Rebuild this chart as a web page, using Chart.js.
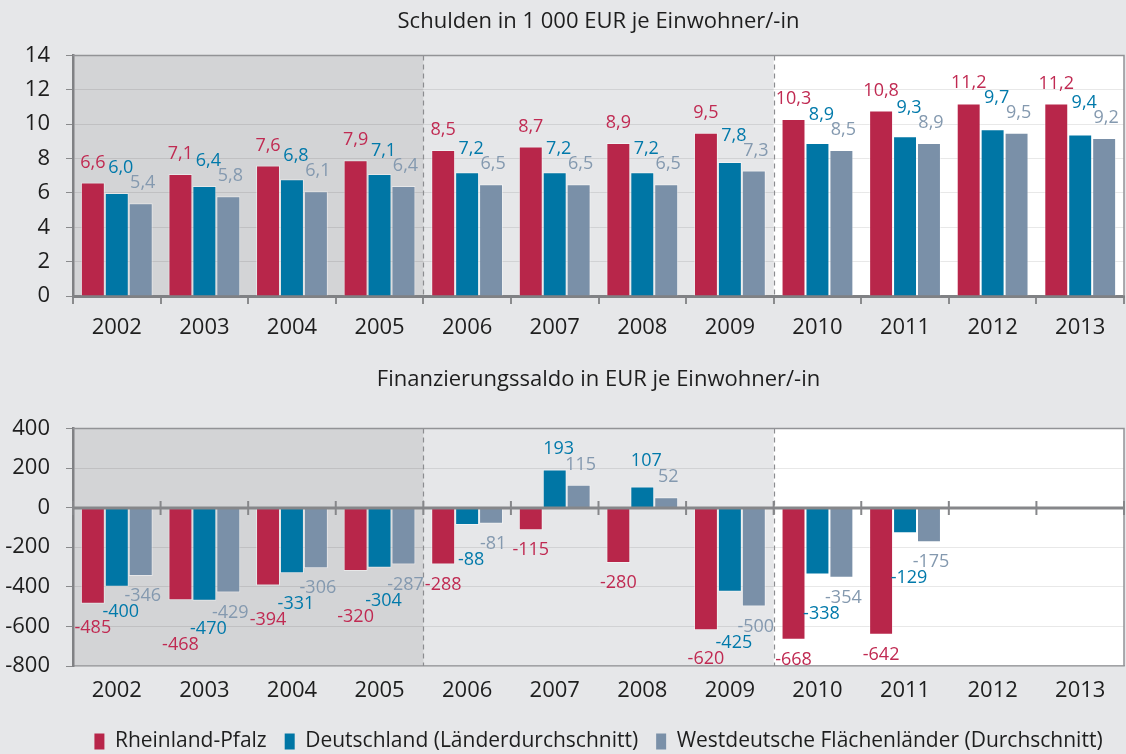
<!DOCTYPE html>
<html>
<head>
<meta charset="utf-8">
<script src="https://cdn.jsdelivr.net/npm/chart.js@4.4.1/dist/chart.umd.min.js"></script>
<style>
  html, body { margin: 0; padding: 0; background: #e6e7e9; overflow: hidden; }
  #wrap { position: relative; width: 1126px; height: 754px; overflow: hidden; }
  canvas { position: absolute; left: 0; }
</style>
</head>
<body>
<div id="wrap">
  <canvas id="debt" width="1126" height="350" style="top:0"></canvas>
  <canvas id="saldo" width="1126" height="412" style="top:350px"></canvas>
</div>
<script>
const years = ['2002', '2003', '2004', '2005', '2006', '2007', '2008', '2009', '2010', '2011', '2012', '2013'];
const seriesNames = ['Rheinland-Pfalz', 'Deutschland (Länderdurchschnitt)', 'Westdeutsche Flächenländer (Durchschnitt)'];

// Schulden in 1 000 EUR je Einwohner/-in
const debtRP   = [6.6, 7.1, 7.6, 7.9, 8.5, 8.7, 8.9, 9.5, 10.3, 10.8, 11.2, 11.2];
const debtDE   = [6.0, 6.4, 6.8, 7.1, 7.2, 7.2, 7.2, 7.8, 8.9, 9.3, 9.7, 9.4];
const debtWest = [5.4, 5.8, 6.1, 6.4, 6.5, 6.5, 6.5, 7.3, 8.5, 8.9, 9.5, 9.2];

// Finanzierungssaldo in EUR je Einwohner/-in (2012, 2013 ohne Angabe)
const saldoRP   = [-485, -468, -394, -320, -288, -115, -280, -620, -668, -642, null, null];
const saldoDE   = [-400, -470, -331, -304, -88, 193, 107, -425, -338, -129, null, null];
const saldoWest = [-346, -429, -306, -287, -81, 115, 52, -500, -354, -175, null, null];

const FONT = "'Open Sans', 'Noto Sans', sans-serif";
const barColors = ['#b8264a', '#0076a5', '#7a90a8'];
const labelColors = ['#c02a52', '#0079aa', '#8499af'];

// shaded periods behind the bars + dashed separators + frame
const bands = {
  id: 'bands',
  beforeDraw(chart) {
    const { ctx, chartArea: a, scales: { x } } = chart;
    const half = (x.getPixelForValue(1) - x.getPixelForValue(0)) / 2;
    const edge = i => x.getPixelForValue(i) - half;
    ctx.save();
    ctx.fillStyle = '#d3d4d6';
    ctx.fillRect(a.left, a.top, edge(4) - a.left, a.bottom - a.top);
    ctx.fillStyle = '#ffffff';
    ctx.fillRect(edge(8), a.top, a.right - edge(8), a.bottom - a.top);
    ctx.restore();
  },
  beforeDatasetsDraw(chart) {
    const { ctx, chartArea: a, scales: { x } } = chart;
    const half = (x.getPixelForValue(1) - x.getPixelForValue(0)) / 2;
    ctx.save();
    ctx.strokeStyle = '#8c8d90';
    ctx.lineWidth = 1.2;
    ctx.setLineDash([5, 4]);
    [4, 8].forEach(i => {
      const px = Math.round(x.getPixelForValue(i) - half) + 0.5;
      ctx.beginPath();
      ctx.moveTo(px, a.top);
      ctx.lineTo(px, a.bottom);
      ctx.stroke();
    });
    ctx.setLineDash([]);
    ctx.strokeStyle = '#929396';
    ctx.lineWidth = 1.5;
    ctx.beginPath();
    ctx.moveTo(a.left, a.top);
    ctx.lineTo(a.right, a.top);
    ctx.lineTo(a.right, a.bottom);
    ctx.stroke();
    ctx.restore();
  }
};

// zero line with crossing ticks (lower chart)
const zeroAxis = {
  id: 'zeroAxis',
  afterDatasetsDraw(chart) {
    const { ctx, chartArea: a, scales: { x, y } } = chart;
    const y0 = Math.round(y.getPixelForValue(0));
    const half = (x.getPixelForValue(1) - x.getPixelForValue(0)) / 2;
    ctx.save();
    ctx.strokeStyle = '#86878a';
    ctx.lineWidth = 3;
    ctx.beginPath();
    ctx.moveTo(a.left, y0);
    ctx.lineTo(a.right, y0);
    ctx.stroke();
    ctx.lineWidth = 2;
    for (let i = 0; i <= years.length; i++) {
      const px = x.getPixelForValue(i) - half;
      ctx.beginPath();
      ctx.moveTo(px, y0 - 7);
      ctx.lineTo(px, y0 + 7);
      ctx.stroke();
    }
    ctx.restore();
  }
};

// value labels above / below each bar, nudged apart when neighbours collide
const valueLabels = {
  id: 'valueLabels',
  afterDatasetsDraw(chart, args, opts) {
    const { ctx } = chart;
    const n = chart.data.datasets.length;
    ctx.save();
    ctx.font = '18px ' + FONT;
    ctx.textAlign = 'center';
    ctx.textBaseline = 'middle';
    years.forEach((yr, i) => {
      const placed = [];
      for (let di = n - 1; di >= 0; di--) {
        const v = chart.data.datasets[di].data[i];
        if (v === null || v === undefined) continue;
        const el = chart.getDatasetMeta(di).data[i];
        const text = opts.format(v);
        const lab = { di, v, text, x: el.x + opts.dx[di], w: ctx.measureText(text).width,
                      y: v >= 0 ? el.y - opts.offset : el.y + opts.offset };
        const nb = placed[placed.length - 1];
        if (nb && (nb.v >= 0) === (v >= 0) && Math.abs(nb.x - lab.x) < (nb.w + lab.w) / 2 - 2
            && Math.abs(nb.y - lab.y) < opts.gap) {
          lab.y = v >= 0 ? nb.y - opts.gap : nb.y + opts.gap;
        }
        placed.push(lab);
      }
      placed.forEach(l => {
        ctx.fillStyle = labelColors[l.di];
        ctx.fillText(l.text, l.x, l.y);
      });
    });
    ctx.restore();
  }
};

function makeDatasets(rp, de, west) {
  return [rp, de, west].map((d, i) => ({
    label: seriesNames[i],
    data: d,
    backgroundColor: barColors[i],
    borderColor: 'rgba(255,255,255,0.45)',
    borderWidth: 1,
    categoryPercentage: 0.82,
    barPercentage: 1.0
  }));
}

const yCommon = (min, max, step) => ({
  min: min, max: max,
  ticks: { stepSize: step, color: '#1e1e1e', padding: 16, font: { family: FONT, size: 22 }, callback: v => String(v) },
  grid: { color: 'rgba(0,0,0,0.09)', lineWidth: 1, tickColor: '#8a8b8d', tickLength: 7 },
  border: { color: '#808184', width: 2.5 },
  afterFit: s => { s.width = 73; }
});

Chart.defaults.font.family = FONT;

new Chart(document.getElementById('debt'), {
  type: 'bar',
  data: { labels: years, datasets: makeDatasets(debtRP, debtDE, debtWest) },
  options: {
    responsive: false,
    animation: false,
    devicePixelRatio: 1,
    layout: { padding: { left: 0, right: 2, top: 0, bottom: 0 } },
    scales: {
      x: {
        ticks: { color: '#1e1e1e', padding: 11, font: { family: FONT, size: 22 } },
        grid: { offset: true, drawOnChartArea: false, tickLength: 8, color: '#8a8b8d', lineWidth: 2 },
        border: { color: '#808184', width: 3 },
        afterFit: s => { s.height = 54; }
      },
      y: yCommon(0, 14, 2)
    },
    plugins: {
      legend: { display: false },
      tooltip: { enabled: false },
      title: {
        display: true,
        fullSize: false,
        text: 'Schulden in 1 000 EUR je Einwohner/-in',
        color: '#1e1e1e',
        font: { family: FONT, size: 22, weight: 'normal' },
        padding: { top: 9, bottom: 20 }
      },
      valueLabels: { offset: 20, gap: 15, dx: [0, 4, 2], format: v => v.toFixed(1).replace('.', ',') }
    }
  },
  plugins: [bands, valueLabels]
});

new Chart(document.getElementById('saldo'), {
  type: 'bar',
  data: { labels: years, datasets: makeDatasets(saldoRP, saldoDE, saldoWest) },
  options: {
    responsive: false,
    animation: false,
    devicePixelRatio: 1,
    layout: { padding: { left: 0, right: 2, top: 0, bottom: 0 } },
    scales: {
      x: {
        ticks: { color: '#1e1e1e', padding: 12, font: { family: FONT, size: 22 } },
        grid: { display: false, drawTicks: false },
        border: { color: '#a2a3a6', width: 1.5 },
        afterFit: s => { s.height = 47; }
      },
      y: yCommon(-800, 400, 200)
    },
    plugins: {
      tooltip: { enabled: false },
      title: {
        display: true,
        fullSize: false,
        text: 'Finanzierungssaldo in EUR je Einwohner/-in',
        color: '#1e1e1e',
        font: { family: FONT, size: 22, weight: 'normal' },
        padding: { top: 17, bottom: 35 }
      },
      legend: {
        position: 'bottom',
        fullSize: false,
        labels: {
          color: '#1e1e1e',
          font: { family: FONT, size: 21 },
          boxWidth: 10,
          boxHeight: 16,
          padding: 18,
          generateLabels: chart => Chart.defaults.plugins.legend.labels.generateLabels(chart)
            .map(l => Object.assign(l, { lineWidth: 0, strokeStyle: 'transparent' }))
        }
      },
      valueLabels: { offset: 20, gap: 16, dx: [0, 4, 2], format: v => String(v) }
    }
  },
  plugins: [bands, zeroAxis, valueLabels]
});
</script>
</body>
</html>
